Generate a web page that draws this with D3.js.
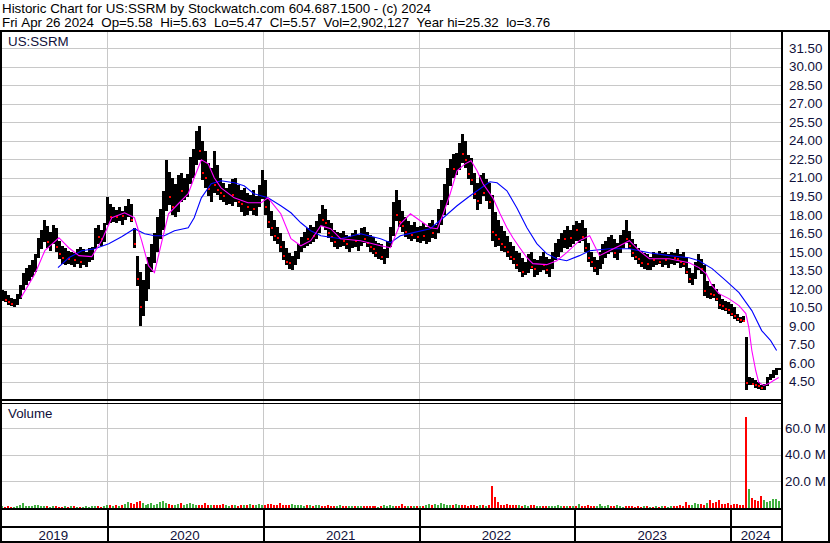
<!DOCTYPE html>
<html><head><meta charset="utf-8">
<script src="https://cdn.jsdelivr.net/npm/d3@7"></script>
<style>
body{margin:0;background:#fff;}
svg{display:block;font-family:"Liberation Sans",Arial,sans-serif;}
</style>
</head><body><svg id="c" width="830" height="543"></svg>
<script>
// ---------------- DATA ----------------
const titleLine1 = "Historic Chart for US:SSRM by Stockwatch.com 604.687.1500 - (c) 2024";
const titleLine2 = "Fri Apr 26 2024  Op=5.58  Hi=5.63  Lo=5.47  Cl=5.57  Vol=2,902,127  Year hi=25.32  lo=3.76";
const symbol = "US:SSRM";
const firstWeek = "2019-04-29";           // Monday of first weekly bar
const dateStart = "2019-04-26", dateEnd = "2024-04-27";

const highs = [11.9,11.8,11.5,11.3,11.2,11.6,12.3,13.3,13.7,13.9,14.3,14.8,16.1,16.8,17.6,17.1,16.6,17.2,16.9,15.9,
15.5,15.3,15.1,15.0,14.9,15.2,15.4,15.2,15.0,15.3,15.4,16.9,17.2,16.8,17.3,19.4,18.9,18.6,18.4,18.6,
18.3,18.7,19.3,18.9,16.9,14.7,13.4,12.7,14.0,14.6,15.6,16.5,17.8,18.5,19.9,22.4,21.5,21.0,20.5,21.2,
21.4,21.0,21.3,22.7,23.3,24.8,25.2,24.0,23.2,22.2,21.8,23.2,22.0,21.0,20.6,20.2,20.5,20.9,21.0,20.4,
20.0,20.2,19.8,19.6,20.0,19.5,20.4,21.6,20.8,19.3,18.3,17.6,17.0,16.5,15.9,15.3,14.9,14.7,15.1,15.6,
16.2,16.6,16.9,17.2,17.0,17.5,18.1,18.8,18.5,17.6,17.3,16.8,16.6,16.5,16.7,16.4,16.2,16.5,16.8,16.4,
16.9,17.0,16.6,16.4,16.2,15.9,15.7,15.6,15.2,15.9,17.0,19.0,20.0,19.2,18.3,17.8,17.5,17.2,17.4,17.0,
17.1,17.3,17.0,17.3,17.6,17.2,18.5,19.2,20.5,21.8,22.5,22.9,23.0,23.8,24.5,24.0,22.8,22.6,21.4,20.6,
21.2,21.4,20.9,20.6,19.6,18.2,17.6,17.1,16.7,16.3,15.8,15.5,15.1,14.9,14.5,14.2,14.8,15.0,14.4,14.3,
14.7,15.0,14.6,14.4,15.0,15.7,16.0,16.5,16.8,17.1,16.8,17.2,17.5,17.3,17.6,16.9,15.7,15.0,14.6,14.3,
15.0,15.6,15.9,16.2,16.4,16.0,15.7,16.4,16.8,17.6,16.7,16.0,15.6,15.3,15.1,14.9,14.8,14.6,15.0,14.8,
15.1,14.9,15.0,14.8,15.0,14.9,15.2,14.8,15.0,14.6,13.7,13.3,14.2,14.8,14.4,13.9,12.6,12.2,12.4,12.0,
11.6,11.2,11.0,10.9,10.8,10.5,10.0,9.7,9.8,8.1,4.9,4.8,4.6,4.5,4.2,4.3,4.9,5.1,5.4,5.6,5.63];

const lows = [11.0,10.9,10.7,10.6,10.5,10.7,11.2,11.9,12.3,12.6,13.0,13.4,14.5,15.2,15.8,15.3,15.1,15.6,15.0,14.4,
14.0,13.9,14.0,13.9,13.8,14.0,13.7,13.9,13.8,14.2,14.3,15.2,15.6,15.5,15.8,17.2,17.3,17.4,17.3,17.5,
17.2,17.6,17.8,17.4,15.3,12.2,9.0,9.8,11.0,12.0,13.4,14.1,15.0,16.0,16.8,18.3,18.8,18.0,17.8,18.2,
19.0,19.2,19.4,20.5,21.0,22.0,22.4,20.8,20.2,19.5,19.0,19.8,19.6,19.2,19.0,18.8,18.9,18.7,19.0,18.6,
18.2,17.9,18.0,18.3,18.0,17.9,18.6,19.3,18.0,16.9,16.3,15.9,15.6,15.0,14.3,13.9,13.6,13.5,13.9,14.4,
15.0,15.3,15.5,15.6,15.8,16.0,16.5,17.1,16.8,16.1,15.8,15.4,15.2,15.4,15.5,15.2,15.0,15.3,15.4,15.1,
15.5,15.7,15.4,15.0,14.8,14.6,14.4,14.3,14.0,14.5,15.4,16.3,17.5,17.0,16.6,16.2,16.0,15.9,16.0,15.8,
15.7,15.9,15.6,15.8,16.1,16.0,16.5,17.2,18.0,18.8,20.3,21.0,21.2,21.6,22.2,21.8,20.9,20.4,19.3,18.4,
18.9,19.5,19.1,18.5,15.9,15.4,15.5,15.1,15.0,14.6,14.3,14.0,13.6,13.4,13.0,13.1,13.3,13.6,13.0,13.1,
13.4,13.5,13.2,13.0,13.6,14.3,14.6,15.0,15.3,15.2,15.4,15.6,15.9,15.7,15.9,15.0,14.2,13.8,13.4,13.1,
13.6,14.0,14.5,14.8,15.0,14.5,14.3,14.9,15.3,15.7,15.2,14.6,14.3,14.0,13.8,13.6,13.5,13.5,13.8,13.9,
14.0,13.8,13.9,13.7,14.0,13.9,14.1,13.7,13.8,13.2,12.5,12.3,12.8,13.5,13.2,11.4,11.3,11.2,11.3,11.0,
10.4,10.3,10.2,10.0,9.8,9.6,9.4,9.2,9.3,3.8,4.2,4.2,4.0,3.9,3.8,3.8,4.1,4.6,4.8,5.0,5.47];

const closes = [11.3,11.1,10.9,10.8,11.0,11.4,12.0,12.9,13.2,13.6,13.9,14.6,15.8,16.3,16.6,15.8,16.2,16.4,15.4,14.8,
14.5,14.6,14.4,14.5,14.3,14.8,14.2,14.5,14.6,14.9,15.2,16.4,16.2,16.0,17.1,18.4,17.8,18.1,17.8,18.2,
17.9,18.4,18.6,17.6,15.6,12.8,10.5,11.8,13.1,13.8,15.0,15.6,17.0,17.6,19.2,19.8,19.4,18.6,19.6,20.4,
19.9,20.3,20.9,22.1,22.6,23.6,23.2,21.4,21.0,20.1,21.2,20.4,20.0,19.8,19.5,19.9,20.1,19.6,19.9,19.0,
18.9,19.4,18.6,19.1,18.5,19.2,20.0,20.2,18.6,17.4,16.9,16.3,16.1,15.4,14.7,14.2,14.1,14.6,14.9,15.3,
15.6,16.2,16.0,16.8,16.3,17.2,17.8,17.6,17.3,16.5,16.2,15.8,16.1,16.2,15.9,15.6,15.8,16.0,15.9,16.2,
16.6,16.0,15.7,15.4,15.2,14.9,15.0,14.6,14.8,15.6,16.7,18.6,18.0,17.4,17.1,16.6,16.9,16.4,16.6,16.2,
16.8,16.3,16.9,17.0,16.5,16.9,18.2,18.9,20.1,21.3,22.0,21.7,22.8,23.2,22.9,22.4,21.3,20.8,19.7,19.1,
20.6,19.8,20.2,19.0,16.6,16.4,16.0,15.6,15.4,15.0,14.6,14.4,13.9,14.1,13.4,13.9,14.5,13.8,13.6,14.0,
14.4,13.9,13.5,14.2,14.8,15.4,15.8,16.2,16.0,16.6,16.1,16.9,16.8,17.0,16.2,15.3,14.5,14.2,13.7,14.1,
14.9,15.4,15.7,16.0,15.2,14.9,15.5,16.1,16.5,16.0,15.5,14.9,14.6,14.4,14.1,14.3,14.0,14.5,14.3,14.6,
14.2,14.7,14.3,14.4,14.7,14.5,14.4,14.2,14.0,13.4,12.8,13.1,14.0,14.2,13.6,11.8,11.9,11.6,11.5,11.2,
10.7,10.6,10.4,10.3,10.0,9.8,9.6,9.5,9.4,4.4,4.5,4.3,4.2,4.1,4.0,4.2,4.8,5.0,5.3,5.4,5.57];

const volumesM = [1.2,1.0,1.4,0.9,1.1,1.3,2.2,3.6,1.5,1.8,1.2,2.6,1.9,1.4,1.6,1.2,1.0,1.3,1.5,1.1,
0.9,1.2,1.0,1.4,1.8,1.1,0.8,1.0,1.3,0.9,1.2,1.6,1.4,1.1,1.7,1.9,
2.1,1.8,2.4,1.6,2.2,3.1,4.8,3.6,2.9,4.2,5.6,3.8,2.6,2.9,3.4,2.2,2.8,4.6,5.4,3.7,
3.2,2.6,2.4,2.9,3.5,2.2,2.8,3.9,3.1,2.5,2.0,2.3,3.6,2.4,2.1,1.9,2.6,2.2,3.0,2.5,
1.8,2.4,2.0,1.7,2.6,2.3,1.9,2.8,2.2,2.5,3.0,2.4,
2.6,3.2,2.8,2.2,2.4,3.4,2.6,2.0,2.3,2.8,1.9,2.4,2.1,1.8,2.6,2.2,1.7,1.9,2.3,1.6,
1.8,2.2,1.5,1.7,1.4,1.9,1.6,1.3,1.5,1.8,1.2,1.4,1.7,1.3,1.5,1.2,1.6,1.4,1.1,1.3,
1.9,1.5,2.1,1.4,1.6,1.8,2.9,1.5,1.3,1.2,1.4,1.6,
1.4,1.8,2.2,2.9,2.4,3.1,2.6,3.6,2.8,2.2,1.9,2.5,3.3,2.4,2.0,2.6,1.8,2.2,1.9,1.7,
2.1,2.4,1.8,2.3,16.5,8.0,4.5,2.6,2.2,2.8,2.4,1.9,2.1,2.5,1.8,2.0,1.6,2.2,1.9,1.5,
1.7,1.4,1.8,1.6,1.3,1.5,1.9,1.4,1.2,1.6,1.3,1.5,
1.6,3.2,1.8,1.4,2.6,1.5,1.3,1.7,3.0,1.6,1.4,1.9,1.2,1.5,2.4,1.3,1.1,1.6,1.4,1.2,
1.0,1.3,1.1,1.5,1.2,0.9,1.1,1.4,1.0,1.2,1.3,1.1,1.5,1.2,1.8,2.2,1.6,4.2,2.4,2.0,
3.5,2.8,3.2,2.6,3.8,6.0,3.4,4.6,5.8,3.2,2.8,3.6,
2.4,2.8,3.0,2.6,2.2,68.0,14.5,7.5,6.0,5.5,8.8,6.2,4.8,5.6,7.0,6.4,5.2];

// short moving average (magenta): week index of sample, value
const maShortWeeks = [6.3,11,14.3,19,22.3,25.7,30,33.3,36.7,41,44.3,46.7,49,51,53.3,55.7,59,62.3,64.3,66.7,
69,71,73.3,77.7,82.3,86.7,89,93.3,96.7,100,103.3,106.7,110,113.3,120,126.7,130,133.3,136.7,140,
143.3,145.7,147.7,150,152.3,155,157,159,161,164.3,166.7,169,171,173.3,175.7,177.7,182.3,185.7,189,193.3,
196.7,200,203.3,206.7,210,213.3,216.7,223.3,230,233.3,235.7,237.7,240,243.3,246.7,249,250,251,252.3,253.3,
255,256.7,258.3,260];
const maShortVals = [11.29,13.23,15.09,16.14,15.33,14.69,14.61,15.90,17.76,18.16,17.76,15.90,13.88,13.31,15.66,18.08,18.89,19.70,20.99,22.45,
22.12,20.99,20.18,19.37,18.97,18.97,19.37,18.08,16.06,15.49,15.90,17.11,16.87,16.06,15.90,15.49,15.33,17.27,18.08,17.52,
16.95,16.87,18.08,19.70,21.56,22.12,22.37,21.56,20.51,19.37,18.08,16.95,16.14,15.33,14.52,14.04,13.96,14.28,14.93,15.90,
16.30,14.69,15.09,15.49,15.90,15.09,14.44,14.44,14.12,13.72,13.23,12.26,11.61,11.21,10.64,10.00,8.87,7.01,5.39,4.42,
4.18,4.34,4.58,4.82];

// long moving average (blue)
const maLongWeeks = [18.7,22.3,26.7,31,35.7,40,44.3,47.7,51,54.3,57.7,62.3,64.3,66.7,70,73.3,77.7,81,84.3,89,
93.3,96.7,100,103.3,106.7,113.3,120,126.7,130,133.3,137.7,143.3,147.7,152.3,156.7,160,163.3,165.7,169,172.3,
175.7,179,182.3,185.7,189,193.3,196.7,203.3,210,216.7,223.3,230,233.3,237.7,242.3,246.7,251,254.3,257.3,259.3];
const maLongVals = [13.72,14.52,15.09,15.25,15.66,16.22,16.87,16.46,16.30,16.30,16.71,16.95,17.76,19.37,20.51,20.75,20.59,20.34,19.70,19.37,
18.73,18.16,17.35,16.71,16.30,16.06,16.46,16.06,15.74,16.30,16.55,16.87,17.76,18.73,19.54,20.10,20.67,20.59,19.94,18.57,
16.95,15.66,14.85,14.44,14.28,14.69,15.09,15.25,15.25,14.93,14.69,14.52,14.28,13.64,12.67,11.69,10.24,8.62,7.81,7.01];

const priceTicks = [31.5,30,28.5,27,25.5,24,22.5,21,19.5,18,16.5,15,13.5,12,10.5,9,7.5,6,4.5];
const volTicks = [20,40,60];
const years = [2019,2020,2021,2022,2023,2024];

// ---------------- CHART ----------------
const svg = d3.select("#c");
const FS = 13.33;
const plotR = 781, priceTop = 31, priceBot = 400, volTop = 403, volBot = 508;
const parse = d3.timeParse("%Y-%m-%d");
const wk0 = parse(firstWeek);
const weekDate = w => d3.timeHour.offset(wk0, Math.round((7*w + 2)*24));
const nb = s => s.replace(/ /g, "\u00a0");

const x = d3.scaleTime().domain([parse(dateStart), parse(dateEnd)]).range([0, 780]);
const y = d3.scaleLinear().domain([4.5, 31.5]).range([381.5, 48]);
const yv = d3.scaleLinear().domain([0, 60]).range([volBot, 428]);

svg.append("rect").attr("width",830).attr("height",543).attr("fill","#fff");

svg.append("clipPath").attr("id","cp").append("rect").attr("x",0).attr("y",priceTop+1).attr("width",plotR).attr("height",priceBot-priceTop-1);
svg.append("clipPath").attr("id","cv").append("rect").attr("x",0).attr("y",volTop+1).attr("width",plotR).attr("height",volBot-volTop-1);

const grid = "#c8c8c8";
svg.append("g").selectAll("line").data(priceTicks).join("line")
  .attr("x1",0).attr("x2",plotR).attr("y1",d=>Math.round(y(d))+0.5).attr("y2",d=>Math.round(y(d))+0.5)
  .attr("stroke",grid);
svg.append("g").selectAll("line").data(volTicks).join("line")
  .attr("x1",0).attr("x2",plotR).attr("y1",d=>Math.round(yv(d))+0.5).attr("y2",d=>Math.round(yv(d))+0.5)
  .attr("stroke",grid);
const yearBounds = years.slice(1).map(yr => new Date(yr,0,1));
svg.append("g").selectAll("line").data(yearBounds).join("line")
  .attr("x1",d=>Math.round(x(d))+0.5).attr("x2",d=>Math.round(x(d))+0.5)
  .attr("y1",priceTop).attr("y2",volBot).attr("stroke",grid);

// price bars
const idx = d3.range(highs.length);
const gp = svg.append("g").attr("clip-path","url(#cp)").attr("shape-rendering","crispEdges");
gp.selectAll("rect.bar").data(idx).join("rect").attr("class","bar")
  .attr("x",i=>Math.round(x(weekDate(i)))-1).attr("width",3)
  .attr("y",i=>Math.round(y(highs[i])))
  .attr("height",i=>Math.max(1,Math.round(y(lows[i]))-Math.round(y(highs[i]))))
  .attr("fill","#000");
gp.selectAll("rect.cl").data(idx.filter(i=>i>0 && closes[i]<closes[i-1])).join("rect").attr("class","cl")
  .attr("x",i=>Math.round(x(weekDate(i)))).attr("width",2)
  .attr("y",i=>Math.round(y(closes[i]))-1).attr("height",2).attr("fill","#ff0000");

// moving averages
const lineS = d3.line().x((d,i)=>x(weekDate(maShortWeeks[i]))).y(d=>y(d));
const lineL = d3.line().x((d,i)=>x(weekDate(maLongWeeks[i]))).y(d=>y(d));
gp.append("path").attr("d",lineL(maLongVals)).attr("fill","none").attr("stroke","#0000ff").attr("stroke-width",1.1).attr("shape-rendering","auto");
gp.append("path").attr("d",lineS(maShortVals)).attr("fill","none").attr("stroke","#ff00ff").attr("stroke-width",1.1).attr("shape-rendering","auto");

// volume bars
const gv = svg.append("g").attr("clip-path","url(#cv)").attr("shape-rendering","crispEdges");
gv.selectAll("rect").data(idx).join("rect")
  .attr("x",i=>Math.round(x(weekDate(i)))-1).attr("width",2)
  .attr("y",i=>Math.round(yv(volumesM[i])))
  .attr("height",i=>volBot-Math.round(yv(volumesM[i])))
  .attr("fill",i=> i===0 ? "#40b040" : (closes[i]<closes[i-1] ? "#ff0000" : (closes[i]>closes[i-1] ? "#40b040" : "#a0a0a0")));

// frame lines
const frame = svg.append("g").attr("stroke","#000").attr("shape-rendering","crispEdges");
const hl = (x1,x2,yy,w) => frame.append("line").attr("x1",x1).attr("x2",x2).attr("y1",yy).attr("y2",yy).attr("stroke-width",w);
const vl = (xx,y1,y2,w) => frame.append("line").attr("x1",xx).attr("x2",xx).attr("y1",y1).attr("y2",y2).attr("stroke-width",w);
hl(0,830,31,2);
hl(0,plotR,400,2);
hl(0,plotR,403.5,1);
hl(0,plotR,509,2);
hl(0,plotR,527,2);
hl(0,830,541.5,2);
vl(1,30,543,2);
vl(782,30,543,2);
vl(829,30,543,2);
yearBounds.forEach(d => vl(Math.round(x(d))+0.5, 509, 542, 2));

// axes labels
const txtCol = "#10103a";
const ax = d3.axisRight(y).tickValues(priceTicks).tickFormat(d3.format(".2f")).tickSize(0).tickPadding(0);
const gax = svg.append("g").attr("transform","translate(789,0)").call(ax);
gax.select(".domain").remove();
gax.selectAll("text").attr("font-size",FS).attr("font-family","Liberation Sans, Arial, sans-serif").attr("fill",txtCol);

const axv = d3.axisRight(yv).tickValues(volTicks).tickFormat(d=>d.toFixed(1)+"\u00a0M").tickSize(0).tickPadding(0);
const gav = svg.append("g").attr("transform","translate(785,0)").call(axv);
gav.select(".domain").remove();
gav.selectAll("text").attr("font-size",FS).attr("font-family","Liberation Sans, Arial, sans-serif").attr("fill",txtCol);

// year labels
const bounds = [0, ...yearBounds.map(d=>x(d)), plotR];
svg.append("g").selectAll("text").data(years).join("text")
  .attr("x",(d,i)=>(bounds[i]+bounds[i+1])/2).attr("y",539.5)
  .attr("text-anchor","middle").attr("font-size",FS).attr("fill",txtCol).text(d=>d);

// titles
svg.append("text").attr("x",2).attr("y",13).attr("font-size",FS).attr("fill","#000").text(nb(titleLine1));
svg.append("text").attr("x",2).attr("y",27).attr("font-size",FS).attr("fill","#000").text(nb(titleLine2));
svg.append("text").attr("x",8).attr("y",46).attr("font-size",FS).attr("fill",txtCol).text(symbol);
svg.append("text").attr("x",8).attr("y",418).attr("font-size",FS).attr("fill",txtCol).text("Volume");
</script>
</body></html>
